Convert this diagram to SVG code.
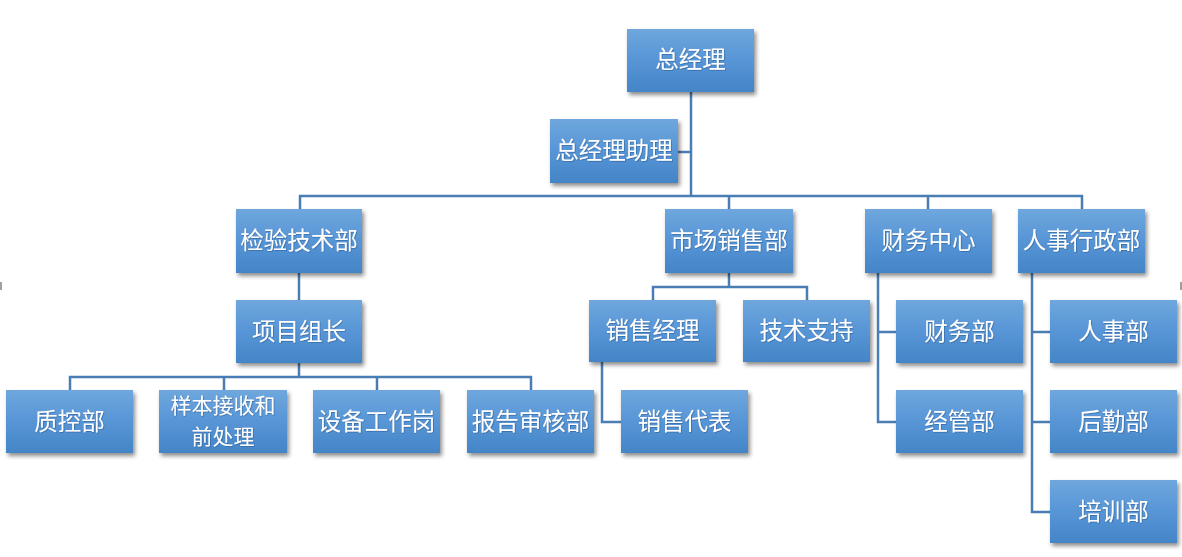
<svg xmlns="http://www.w3.org/2000/svg" width="1182" height="557" viewBox="0 0 1182 557">
<defs>
<linearGradient id="g" x1="0" y1="0" x2="0" y2="1">
<stop offset="0" stop-color="#6fa7dd"/>
<stop offset="0.5" stop-color="#5795d6"/>
<stop offset="1" stop-color="#4485c7"/>
</linearGradient>
<filter id="sh" x="-10%" y="-10%" width="130%" height="140%">
<feDropShadow dx="2" dy="3" stdDeviation="2" flood-color="#000" flood-opacity="0.45"/>
</filter>
<filter id="ts" x="-5%" y="-5%" width="110%" height="120%">
<feDropShadow dx="0.7" dy="0.7" stdDeviation="0.4" flood-color="#1f4e80" flood-opacity="0.6"/>
</filter>
</defs>
<style>
.box{fill:url(#g);filter:url(#sh)}
.t{fill:#fff;font-family:"Noto Sans CJK SC","Noto Sans CJK JP",sans-serif;font-size:23.5px;text-anchor:middle;dominant-baseline:central;filter:url(#ts)}
.s{font-size:21px}
.c{fill:none;stroke:#4a7db4;stroke-width:2.5}
.m{fill:#a0a0a0}
</style>
<rect width="1182" height="557" fill="#fff"/>
<rect class="m" x="0" y="282" width="2" height="8"/>
<rect class="m" x="1180" y="282" width="2" height="8"/>
<g id="connectors">
<path class="c" d="M691 92V196M678 152H691"/>
<path class="c" d="M300 209V196H1082V209M729 196V209M928 196V209"/>
<path class="c" d="M299 273V300"/>
<path class="c" d="M299 363V377M70 390V377H531V390M224 377V390M377 377V390"/>
<path class="c" d="M729 273V287M653 300V287H807V300"/>
<path class="c" d="M602 362V422H621"/>
<path class="c" d="M878 273V422H896M878 332H896"/>
<path class="c" d="M1032 273V512H1050M1032 332H1050M1032 422H1050"/>
</g>
<g id="n1"><rect class="box" x="627" y="29" width="127" height="63"/><text class="t" x="690.5" y="58">总经理</text></g>
<g id="n2"><rect class="box" x="550" y="119" width="128" height="64"/><text class="t" x="614" y="149">总经理助理</text></g>
<g id="n3"><rect class="box" x="236" y="209" width="126" height="64"/><text class="t" x="299" y="239">检验技术部</text></g>
<g id="n4"><rect class="box" x="665" y="209" width="128" height="64"/><text class="t" x="729" y="239">市场销售部</text></g>
<g id="n5"><rect class="box" x="865" y="209" width="127" height="64"/><text class="t" x="928.5" y="239">财务中心</text></g>
<g id="n6"><rect class="box" x="1018" y="209" width="127" height="64"/><text class="t" x="1081.5" y="239">人事行政部</text></g>
<g id="n7"><rect class="box" x="236" y="300" width="126" height="63"/><text class="t" x="299" y="329.5">项目组长</text></g>
<g id="n8"><rect class="box" x="589" y="300" width="127" height="62"/><text class="t" x="652.5" y="329">销售经理</text></g>
<g id="n9"><rect class="box" x="743" y="300" width="127" height="62"/><text class="t" x="806.5" y="329">技术支持</text></g>
<g id="n10"><rect class="box" x="896" y="300" width="127" height="63"/><text class="t" x="959.5" y="329.5">财务部</text></g>
<g id="n11"><rect class="box" x="1050" y="300" width="127" height="63"/><text class="t" x="1113.5" y="329.5">人事部</text></g>
<g id="n12"><rect class="box" x="6" y="390" width="127" height="63"/><text class="t" x="69.5" y="419.5">质控部</text></g>
<g id="n13"><rect class="box" x="159" y="390" width="128" height="63"/><text class="t s" x="223" y="404">样本接收和</text><text class="t s" x="223" y="435">前处理</text></g>
<g id="n14"><rect class="box" x="313" y="390" width="127" height="63"/><text class="t" x="376.5" y="419.5">设备工作岗</text></g>
<g id="n15"><rect class="box" x="467" y="390" width="127" height="63"/><text class="t" x="530.5" y="419.5">报告审核部</text></g>
<g id="n16"><rect class="box" x="621" y="390" width="127" height="63"/><text class="t" x="684.5" y="419.5">销售代表</text></g>
<g id="n17"><rect class="box" x="896" y="390" width="127" height="63"/><text class="t" x="959.5" y="419.5">经管部</text></g>
<g id="n18"><rect class="box" x="1050" y="390" width="127" height="63"/><text class="t" x="1113.5" y="419.5">后勤部</text></g>
<g id="n19"><rect class="box" x="1050" y="480" width="127" height="63"/><text class="t" x="1113.5" y="509.5">培训部</text></g>
</svg>
